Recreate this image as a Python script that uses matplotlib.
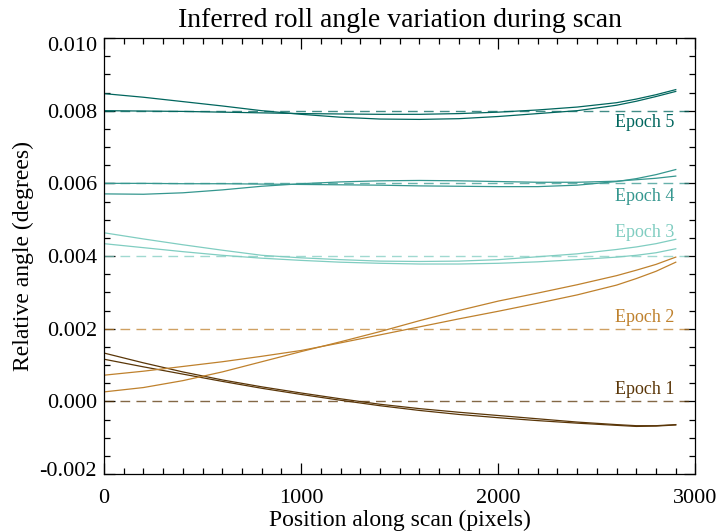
import numpy as np
import matplotlib
matplotlib.use("Agg")
import matplotlib.pyplot as plt
from matplotlib.ticker import MultipleLocator, FormatStrFormatter
from matplotlib.transforms import ScaledTranslation

plt.rcParams["font.family"] = ["Liberation Serif", "DejaVu Serif"]
plt.rcParams["axes.unicode_minus"] = False

# position along the scan (pixels)
pos = [0, 200, 400, 600, 800, 1000, 1200, 1400, 1600, 1800,
       2000, 2200, 2400, 2600, 2700, 2800, 2900]

# two roll-angle solutions per epoch (degrees)
ep1_a = [0.00133, 0.00106, 0.00081, 0.00059, 0.00040, 0.00023, 0.00007, -0.00008,
         -0.00020, -0.00030, -0.00039, -0.00048, -0.00057, -0.00064, -0.00067, -0.00067, -0.00064]
ep1_b = [0.00116, 0.00095, 0.00075, 0.00055, 0.00036, 0.00019, 0.00003, -0.00012,
         -0.00025, -0.00036, -0.00045, -0.00053, -0.00060, -0.00066, -0.00069, -0.00068, -0.00065]
ep2_a = [0.00072, 0.00083, 0.00096, 0.00109, 0.00124, 0.00140, 0.00161, 0.00183,
         0.00205, 0.00227, 0.00248, 0.00270, 0.00293, 0.00320, 0.00338, 0.00358, 0.00383]
ep2_b = [0.00026, 0.00038, 0.00057, 0.00081, 0.00109, 0.00137, 0.00164, 0.00192,
         0.00222, 0.00250, 0.00276, 0.00298, 0.00321, 0.00346, 0.00361, 0.00377, 0.00397]
ep3_a = [0.00464, 0.00447, 0.00431, 0.00416, 0.00402, 0.00395, 0.00390, 0.00386,
         0.00385, 0.00386, 0.00390, 0.00398, 0.00406, 0.00418, 0.00425, 0.00434, 0.00446]
ep3_b = [0.00434, 0.00423, 0.00412, 0.00402, 0.00394, 0.00388, 0.00383, 0.00380,
         0.00378, 0.00378, 0.00380, 0.00384, 0.00390, 0.00397, 0.00402, 0.00409, 0.00420]
ep4_a = [0.00600, 0.00600, 0.00599, 0.00599, 0.00598, 0.00597, 0.00596, 0.00595,
         0.00593, 0.00592, 0.00591, 0.00591, 0.00595, 0.00605, 0.00613, 0.00624, 0.00638]
ep4_b = [0.00571, 0.00570, 0.00574, 0.00582, 0.00592, 0.00599, 0.00604, 0.00607,
         0.00608, 0.00607, 0.00605, 0.00603, 0.00603, 0.00606, 0.00610, 0.00614, 0.00620]
ep5_a = [0.00800, 0.00799, 0.00798, 0.00796, 0.00794, 0.00792, 0.00791, 0.00790,
         0.00790, 0.00792, 0.00796, 0.00802, 0.00810, 0.00822, 0.00832, 0.00844, 0.00858]
ep5_b = [0.00847, 0.00837, 0.00825, 0.00813, 0.00800, 0.00790, 0.00782, 0.00777,
         0.00776, 0.00778, 0.00784, 0.00792, 0.00800, 0.00815, 0.00826, 0.00839, 0.00853]

labels = ["Epoch 1", "Epoch 2", "Epoch 3", "Epoch 4", "Epoch 5"]
baselines = [0.000, 0.002, 0.004, 0.006, 0.008]
colors = ["#5a3608", "#bf812d", "#80cdc1", "#35978f", "#01665e"]
label_shift = [0.00032, 0.00032, 0.00064, -0.00036, -0.00033]
series = [(ep1_a, ep1_b), (ep2_a, ep2_b), (ep3_a, ep3_b), (ep4_a, ep4_b), (ep5_a, ep5_b)]

fig = plt.figure(figsize=(7.21, 5.31), dpi=100)
ax = fig.add_axes([0.1442, 0.1073, 0.8204, 0.8211])

for (a, b), base, col, lab, dy in zip(series, baselines, colors, labels, label_shift):
    ax.axhline(base, color=col, lw=1.0, ls=(0, (7, 4.5)), alpha=0.75)
    ax.plot(pos, a, color=col, lw=0.9)
    ax.plot(pos, b, color=col, lw=0.9)
    ax.text(2893, base + dy, lab, color=col, fontsize=13, ha="right", va="center")

ax.set_xlim(0, 3000)
ax.set_ylim(-0.002, 0.010)
ax.xaxis.set_major_locator(MultipleLocator(1000))
ax.xaxis.set_minor_locator(MultipleLocator(100))
ax.yaxis.set_major_locator(MultipleLocator(0.002))
ax.yaxis.set_minor_locator(MultipleLocator(0.0005))
ax.yaxis.set_major_formatter(FormatStrFormatter("%.3f"))
ax.tick_params(which="both", direction="in", top=True, right=True, labelsize=16, width=0.9)
ax.tick_params(which="major", length=8)
ax.tick_params(which="minor", length=4.5)
ax.tick_params(axis="x", pad=11)
ax.tick_params(axis="y", pad=5)
for s in ax.spines.values():
    s.set_linewidth(0.9)

ax.set_title("Inferred roll angle variation during scan", fontsize=20, pad=8)
ax.set_xlabel("Position along scan (pixels)", fontsize=17, labelpad=1)
ax.set_ylabel("Relative angle (degrees)", fontsize=17, labelpad=4)

# pull the end labels of the y axis slightly inward
fig.canvas.draw()
ylabs = ax.get_yticklabels()
vis = [t for t in ylabs if -0.0021 <= t.get_position()[1] <= 0.0101]
if vis:
    vis[0].set_transform(vis[0].get_transform() + ScaledTranslation(0, 5 / 100, fig.dpi_scale_trans))
    vis[-1].set_transform(vis[-1].get_transform() + ScaledTranslation(0, -6 / 100, fig.dpi_scale_trans))

fig.savefig("out.png", dpi=100)
